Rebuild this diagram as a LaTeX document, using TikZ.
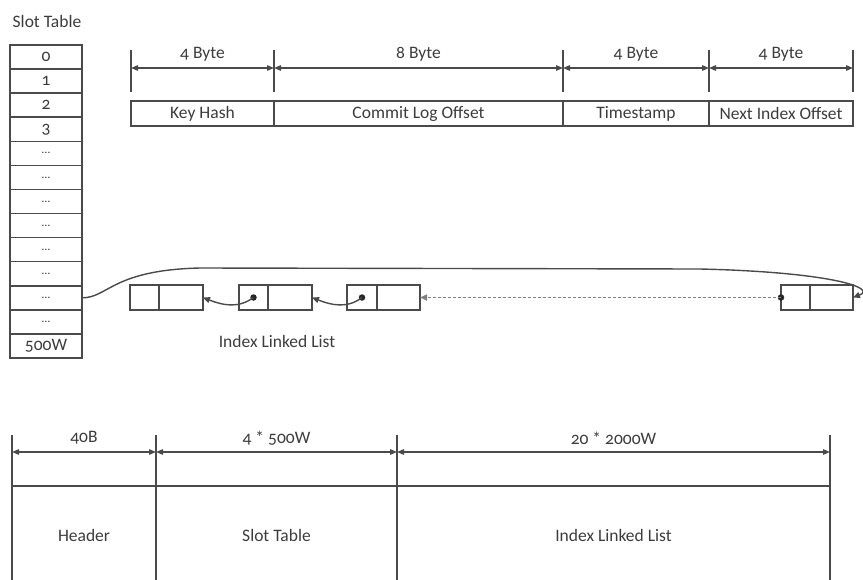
\documentclass[tikz,border=0pt]{standalone}
\usepackage{fontspec}
\setmainfont{Carlito}[Numbers=OldStyle]
\usetikzlibrary{arrows.meta}
\definecolor{ink}{HTML}{3C3C3C}
\definecolor{edge}{HTML}{4A4A4A}
\newcommand\slotdots{{\fontsize{12}{12}\selectfont\textellipsis}}
\begin{document}
\begin{tikzpicture}[x=1pt,y=-1pt, font=\fontsize{17.5}{19}\selectfont, text=ink,
  cell/.style={draw=edge, line width=1.5pt, rectangle, inner sep=0pt, outer sep=0pt},
  dimline/.style={draw=edge, line width=1.3pt, {Triangle[length=7pt,width=5.5pt]}-{Triangle[length=7pt,width=5.5pt]}},
  tickline/.style={draw=edge, line width=1.3pt},
  lbl/.style={inner sep=0pt},
  ptr/.style={draw=edge, line width=1.4pt, -{Triangle[length=7pt,width=6pt]}},
  dotm/.style={circle, fill=black!85, inner sep=0pt, minimum size=6.5pt}
]
\clip (0,0) rectangle (863,579);

% Slot table
\node[lbl] (sttitle) at (47,21) {Slot Table};
\foreach \i/\t in {0/0,1/1,2/2,3/3,4/\slotdots,5/\slotdots,6/\slotdots,7/\slotdots,8/\slotdots,9/\slotdots,10/\slotdots,11/\slotdots,12/500W}{
  \node[cell, minimum width=72pt, minimum height=24.08pt] (s\i) at (46,{45+24.077*(\i+0.5)}) {\t};
}

% Top record fields
\node[cell, minimum width=143pt, minimum height=25pt] (kh) at (202.5,113.5) {Key Hash};
\node[cell, minimum width=289pt, minimum height=25pt] (clo) at (418.5,113.5) {Commit Log Offset};
\node[cell, minimum width=146pt, minimum height=25pt] (ts) at (636,113.5) {Timestamp};
\node[cell, minimum width=144pt, minimum height=25pt] (nio) at (781,113.5) {Next Index Offset};

\foreach \n/\x in {1/131,2/274,3/563,4/709,5/853}{
  \coordinate (tt\n) at (\x,50);
  \coordinate (tb\n) at (\x,92);
  \coordinate (ta\n) at (\x,68);
  \draw[tickline] (tt\n) -- (tb\n);
}
\draw[dimline] (ta1) -- (ta2);
\draw[dimline] (ta2) -- (ta3);
\draw[dimline] (ta3) -- (ta4);
\draw[dimline] (ta4) -- (ta5);
\node[lbl] (d1) at (202.5,54) {4 Byte};
\node[lbl] (d2) at (418.5,54) {8 Byte};
\node[lbl] (d3) at (636,54) {4 Byte};
\node[lbl] (d4) at (781,54) {4 Byte};

% Linked list
\node[cell, minimum width=29pt, minimum height=25pt] (a1) at (144.5,297.5) {};
\node[cell, minimum width=44pt, minimum height=25pt, anchor=west] (a2) at (a1.east) {};
\node[cell, minimum width=29pt, minimum height=25pt] (b1) at (253.5,297.5) {};
\node[cell, minimum width=44pt, minimum height=25pt, anchor=west] (b2) at (b1.east) {};
\node[cell, minimum width=30pt, minimum height=25pt] (c1) at (362,297.5) {};
\node[cell, minimum width=43pt, minimum height=25pt, anchor=west] (c2) at (c1.east) {};
\node[cell, minimum width=29pt, minimum height=25pt] (z1) at (795.5,297.5) {};
\node[cell, minimum width=43pt, minimum height=25pt, anchor=west] (z2) at (z1.east) {};

\node[dotm] (pb) at (b1.center) {};
\node[dotm] (pc) at (c1.center) {};
\node[dotm] (pz) at (z1.west) {};

\draw[ptr] (pb.center) .. controls (238,309) and (222,305) .. (a2.east);
\draw[ptr] (pc.center) .. controls (347,309) and (331,305) .. (b2.east);
\draw[ptr, draw=black!50, dashed, dash pattern=on 3pt off 2pt, line width=1.6pt] (pz.center) -- (c2.east);
\draw[ptr] (s10.east) .. controls (108,298) and (112,270) .. (200,268) -- (700,269)
  .. controls (830,272) and (878,288) .. (z2.east);
\node[lbl] (illabel) at (277,341) {Index Linked List};

% Bottom layout
\foreach \n/\x in {1/12,2/156,3/397,4/830}{
  \coordinate (bt\n) at (\x,435);
  \coordinate (bb\n) at (\x,486);
  \coordinate (ba\n) at (\x,452);
  \draw[tickline] (bt\n) -- (bb\n);
}
\draw[dimline] (ba1) -- (ba2);
\draw[dimline] (ba2) -- (ba3);
\draw[dimline] (ba3) -- (ba4);
\node[lbl] (e1) at (84,438) {40B};
\node[lbl] (e2) at (276.5,438) {4 * 500W};
\node[lbl] (e3) at (613.5,438) {20 * 2000W};

\node[cell, minimum width=144pt, minimum height=100pt, anchor=north west] (hdr) at (12,486) {};
\node[cell, minimum width=241pt, minimum height=100pt, anchor=north west] (slt) at (156,486) {};
\node[cell, minimum width=433pt, minimum height=100pt, anchor=north west] (ill) at (397,486) {};
\node[lbl] (hdrt) at (84,535) {Header};
\node[lbl] (sltt) at (276.5,535) {Slot Table};
\node[lbl] (illt) at (613.5,535) {Index Linked List};
\end{tikzpicture}
\end{document}
